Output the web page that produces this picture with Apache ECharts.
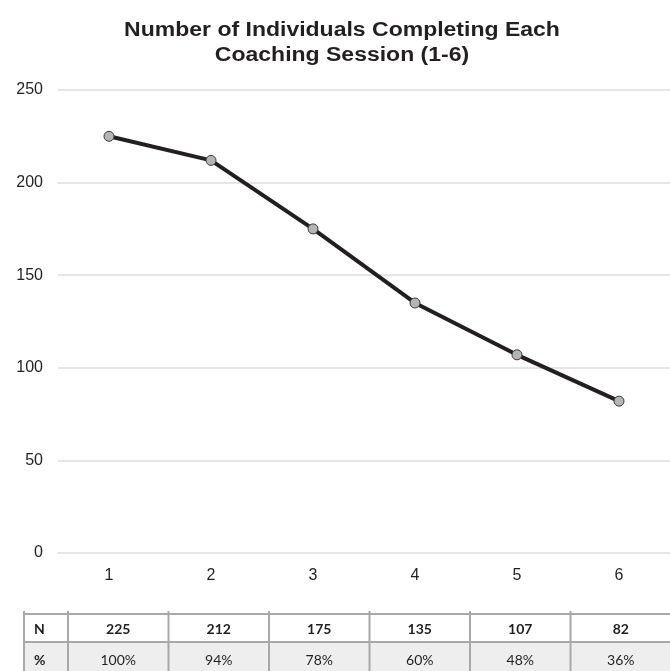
<!DOCTYPE html>
<html>
<head>
<meta charset="utf-8">
<script src="https://cdn.jsdelivr.net/npm/echarts@6/dist/echarts.min.js"></script>
<style>
  html, body { margin: 0; padding: 0; background: #fff; }
  #chart { width: 670px; height: 671px; }
</style>
</head>
<body>
<div id="chart"></div>
<script>
// Coaching sessions and completion counts
const sessions = ['1', '2', '3', '4', '5', '6'];
const completed = [225, 212, 175, 135, 107, 82];
const percentLabels = ['100%', '94%', '78%', '60%', '48%', '36%'];
const rowLabels = ['N', '%'];
const yTicks = [0, 50, 100, 150, 200, 250];
const chartTitle = 'Number of Individuals Completing Each\nCoaching Session (1-6)';

const chart = echarts.init(document.getElementById('chart'), null, { renderer: 'canvas' });

const axisFont = 'Liberation Sans, Arial, sans-serif';
const tableFont = 'Lato, Open Sans, sans-serif';
const ink = '#231f20';

chart.setOption({
  animation: false,
  backgroundColor: '#ffffff',
  grid: { left: 58, right: -2, top: 90, bottom: 118, containLabel: false },
  xAxis: {
    type: 'category',
    data: sessions,
    boundaryGap: true,
    axisLine: { show: false },
    axisTick: { show: false },
    axisLabel: { margin: 15, fontFamily: axisFont, fontSize: 16, color: ink }
  },
  yAxis: {
    type: 'value',
    min: yTicks[0],
    max: yTicks[yTicks.length - 1],
    interval: 50,
    axisLine: { show: false },
    axisTick: { show: false },
    splitLine: { lineStyle: { color: '#dcdcdc', width: 1.5 } },
    axisLabel: { margin: 15, fontFamily: axisFont, fontSize: 16, color: ink }
  },
  series: [{
    type: 'line',
    data: completed,
    symbol: 'circle',
    symbolSize: 10,
    lineStyle: { color: ink, width: 4 },
    itemStyle: { color: '#b4b5b7', borderColor: '#3a3a3a', borderWidth: 1 },
    z: 3
  }]
});

// Title (slightly wide bold face) and the summary table under the plot
function drawExtras() {
  const els = [];

  els.push({
    type: 'text', x: 342, y: 43, scaleX: 1.15, silent: true,
    style: { text: chartTitle, font: 'bold 20px ' + axisFont, fill: ink,
             align: 'center', verticalAlign: 'middle', lineHeight: 25 }
  });

  const tableLeft = 24, firstColW = 44, tableRight = 671;
  const rowTop = 614, rowH = 28;
  const colW = (tableRight - tableLeft - firstColW) / sessions.length;
  const border = '#a8a8a8';

  els.push({ type: 'rect', shape: { x: tableLeft, y: rowTop + rowH, width: tableRight - tableLeft, height: rowH + 4 },
             style: { fill: '#eeeeee' }, silent: true });

  [rowTop, rowTop + rowH].forEach(y => {
    els.push({ type: 'line', shape: { x1: tableLeft, y1: y, x2: tableRight, y2: y },
               style: { stroke: border, lineWidth: 2 }, silent: true });
  });
  const xs = [tableLeft];
  for (let c = 0; c < sessions.length; c++) xs.push(tableLeft + firstColW + c * colW);
  xs.forEach(x => {
    els.push({ type: 'line', shape: { x1: x, y1: rowTop - 3, x2: x, y2: rowTop + 2 * rowH + 4 },
               style: { stroke: border, lineWidth: 2 }, silent: true });
  });

  const rows = [completed.map(String), percentLabels];
  const textY = [629, 660];
  rows.forEach((vals, r) => {
    const weight = r === 0 ? 'bold ' : '';
    els.push({ type: 'text', x: tableLeft + 10, y: textY[r], silent: true,
               style: { text: rowLabels[r], font: 'bold 14px ' + tableFont, fill: ink,
                        align: 'left', verticalAlign: 'middle' } });
    vals.forEach((v, i) => {
      els.push({ type: 'text', x: tableLeft + firstColW + (i + 0.5) * colW, y: textY[r], silent: true,
                 style: { text: v, font: weight + '14px ' + tableFont, fill: ink,
                          align: 'center', verticalAlign: 'middle' } });
    });
  });

  chart.setOption({ graphic: { elements: els } });
}
drawExtras();
</script>
</body>
</html>
